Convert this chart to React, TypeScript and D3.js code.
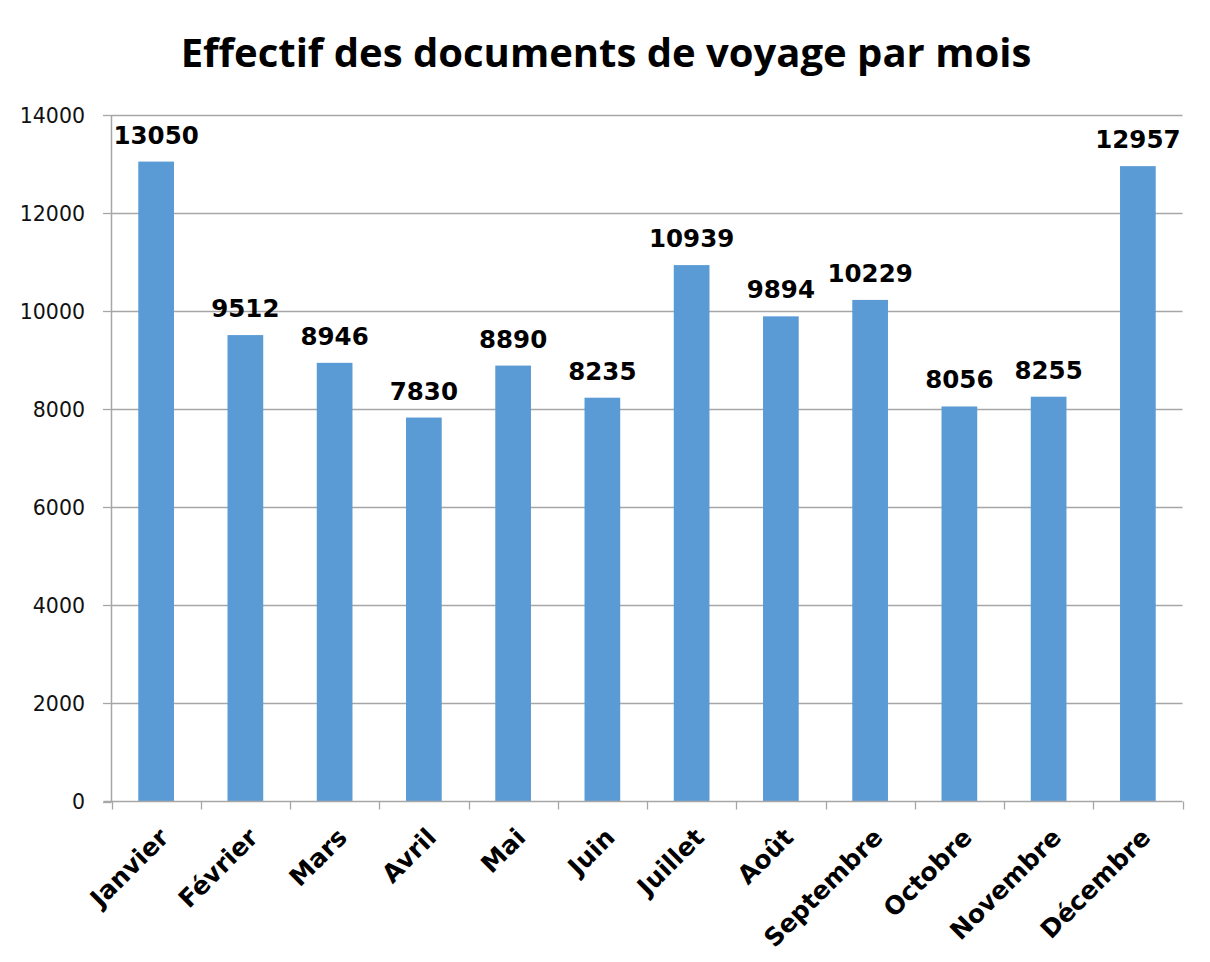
import * as d3 from "d3";
import { useRef, useEffect } from "react";

const months = [
  "Janvier",
  "Février",
  "Mars",
  "Avril",
  "Mai",
  "Juin",
  "Juillet",
  "Août",
  "Septembre",
  "Octobre",
  "Novembre",
  "Décembre",
];
const counts = [13050, 9512, 8946, 7830, 8890, 8235, 10939, 9894, 10229, 8056, 8255, 12957];
const yTicks = [0, 2000, 4000, 6000, 8000, 10000, 12000, 14000];
const title = "Effectif des documents de voyage par mois";

export default function App() {
  const svgRef = useRef(null);

  useEffect(() => {
    const width = 1210;
    const height = 962;
    const left = 111.5;
    const right = 1182.5;
    const top = 115;
    const bottom = 801.5;

    const svg = d3.select(svgRef.current).attr("width", width).attr("height", height);
    svg.selectAll("*").remove();

    svg
      .append("rect")
      .attr("x", 2.5)
      .attr("y", 2.5)
      .attr("width", 1220)
      .attr("height", 980)
      .attr("fill", "#fff")
      .attr("stroke", "#9a9a9a")
      .attr("stroke-width", 1.5);

    svg
      .append("text")
      .attr("x", 606)
      .attr("y", 67)
      .attr("text-anchor", "middle")
      .style("font-family", "'Open Sans', sans-serif")
      .style("font-weight", 700)
      .style("font-size", "40px")
      .attr("fill", "#000")
      .text(title);

    const x = d3
      .scaleBand<string>()
      .domain(months)
      .range([left, right])
      .paddingInner(0.6)
      .paddingOuter(0.3);

    const y = d3.scaleLinear().domain([0, 14000]).range([bottom, top]);

    // gridlines
    svg
      .append("g")
      .selectAll("line")
      .data(yTicks.filter((t) => t > 0))
      .enter()
      .append("line")
      .attr("x1", left)
      .attr("x2", right)
      .attr("y1", (d) => Math.round(y(d)) + 0.5)
      .attr("y2", (d) => Math.round(y(d)) + 0.5)
      .attr("stroke", "#a6a6a6")
      .attr("stroke-width", 1.3);

    // bars
    svg
      .append("g")
      .selectAll("rect")
      .data(counts)
      .enter()
      .append("rect")
      .attr("x", (_, i) => x(months[i])!)
      .attr("y", (d) => y(d))
      .attr("width", x.bandwidth())
      .attr("height", (d) => bottom - y(d))
      .attr("fill", "#5b9bd5");

    // value labels
    svg
      .append("g")
      .selectAll("text")
      .data(counts)
      .enter()
      .append("text")
      .attr("x", (_, i) => x(months[i])! + x.bandwidth() / 2)
      .attr("y", (d) => y(d) - 18)
      .attr("text-anchor", "middle")
      .style("font-family", "'DejaVu Sans', sans-serif")
      .style("font-weight", 700)
      .style("font-size", "24.5px")
      .attr("fill", "#000")
      .text((d) => d);

    // y axis
    const yAxis = svg.append("g");
    yAxis
      .append("line")
      .attr("x1", left)
      .attr("x2", left)
      .attr("y1", top)
      .attr("y2", bottom)
      .attr("stroke", "#a6a6a6")
      .attr("stroke-width", 1.5);
    yAxis
      .selectAll("line.tick")
      .data(yTicks)
      .enter()
      .append("line")
      .attr("class", "tick")
      .attr("x1", 103)
      .attr("x2", left)
      .attr("y1", (d) => Math.round(y(d)) + 0.5)
      .attr("y2", (d) => Math.round(y(d)) + 0.5)
      .attr("stroke", "#a6a6a6")
      .attr("stroke-width", 1.3);
    yAxis
      .selectAll("text")
      .data(yTicks)
      .enter()
      .append("text")
      .attr("x", 85)
      .attr("y", (d) => y(d) + 7.5)
      .attr("text-anchor", "end")
      .style("font-family", "'DejaVu Sans', sans-serif")
      .style("font-size", "20.5px")
      .attr("fill", "#111")
      .text((d) => d);

    // x axis
    const xAxis = svg.append("g");
    xAxis
      .append("line")
      .attr("x1", left - 8)
      .attr("x2", right)
      .attr("y1", bottom)
      .attr("y2", bottom)
      .attr("stroke", "#a6a6a6")
      .attr("stroke-width", 1.5);
    const edges = months.map((_, i) => left + x.step() * i).concat([right]);
    xAxis
      .selectAll("line.tick")
      .data(edges)
      .enter()
      .append("line")
      .attr("class", "tick")
      .attr("x1", (d) => Math.round(d) + 0.5)
      .attr("x2", (d) => Math.round(d) + 0.5)
      .attr("y1", bottom)
      .attr("y2", bottom + 8)
      .attr("stroke", "#a6a6a6")
      .attr("stroke-width", 1.3);
    xAxis
      .selectAll("text")
      .data(months)
      .enter()
      .append("text")
      .attr("transform", (d) => {
        const cx = x(d)! + x.bandwidth() / 2;
        return `translate(${cx + 14},${839}) rotate(-45)`;
      })
      .attr("text-anchor", "end")
      .style("font-family", "'DejaVu Sans', sans-serif")
      .style("font-weight", 700)
      .style("font-size", "25px")
      .attr("fill", "#000")
      .text((d) => d);
  }, []);

  return (
    <div style={{ margin: -8 }}>
      <svg ref={svgRef} style={{ display: "block" }} />
    </div>
  );
}
